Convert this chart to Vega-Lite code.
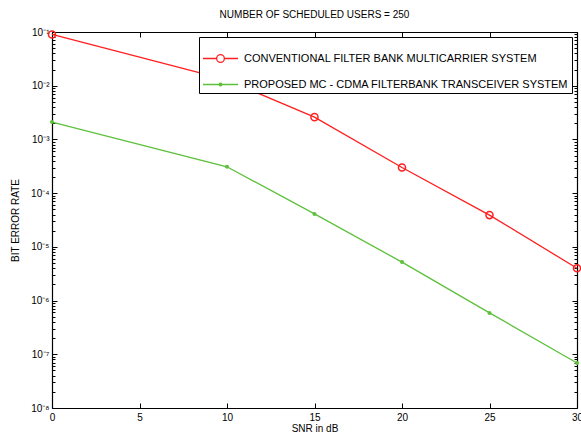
{
  "$schema": "https://vega.github.io/schema/vega-lite/v6.json",
  "width": 525,
  "height": 376,
  "autosize": {"type": "none"},
  "padding": {"left": 52, "top": 32, "right": 4, "bottom": 28},
  "background": "white",
  "config": {
    "font": "Liberation Sans",
    "view": {"stroke": null, "fill": null},
    "axis": {
      "grid": false,
      "zindex": 2,
      "domainColor": "#000000",
      "domainWidth": 1.2,
      "domainOpacity": 1,
      "tickColor": "#000000",
      "tickWidth": 1,
      "tickOpacity": 1,
      "labelColor": "black",
      "titleColor": "black",
      "labelFontSize": 10,
      "titleFontSize": 10,
      "titleFontWeight": "normal",
      "labelFont": "Liberation Sans",
      "titleFont": "Liberation Sans"
    }
  },
  "title": {
    "text": "NUMBER OF SCHEDULED USERS = 250",
    "fontSize": 10,
    "fontWeight": "normal",
    "font": "Liberation Sans",
    "color": "black",
    "offset": 7
  },
  "data": {
    "values": [
      {"snr": 0, "ber": 0.09, "series": "CONVENTIONAL FILTER BANK MULTICARRIER SYSTEM"},
      {"snr": 10, "ber": 0.0128, "series": "CONVENTIONAL FILTER BANK MULTICARRIER SYSTEM"},
      {"snr": 15, "ber": 0.0026, "series": "CONVENTIONAL FILTER BANK MULTICARRIER SYSTEM"},
      {"snr": 20, "ber": 0.0003, "series": "CONVENTIONAL FILTER BANK MULTICARRIER SYSTEM"},
      {"snr": 25, "ber": 0.000039, "series": "CONVENTIONAL FILTER BANK MULTICARRIER SYSTEM"},
      {"snr": 30, "ber": 0.000004, "series": "CONVENTIONAL FILTER BANK MULTICARRIER SYSTEM"},
      {"snr": 0, "ber": 0.0021, "series": "PROPOSED MC - CDMA FILTERBANK TRANSCEIVER SYSTEM"},
      {"snr": 10, "ber": 0.00031, "series": "PROPOSED MC - CDMA FILTERBANK TRANSCEIVER SYSTEM"},
      {"snr": 15, "ber": 0.000041, "series": "PROPOSED MC - CDMA FILTERBANK TRANSCEIVER SYSTEM"},
      {"snr": 20, "ber": 0.0000052, "series": "PROPOSED MC - CDMA FILTERBANK TRANSCEIVER SYSTEM"},
      {"snr": 25, "ber": 0.00000059, "series": "PROPOSED MC - CDMA FILTERBANK TRANSCEIVER SYSTEM"},
      {"snr": 30, "ber": 0.000000069, "series": "PROPOSED MC - CDMA FILTERBANK TRANSCEIVER SYSTEM"}
    ]
  },
  "resolve": {"axis": {"x": "independent", "y": "independent"}},
  "layer": [
    {
      "mark": {"type": "line", "strokeWidth": 1.3},
      "encoding": {
        "x": {
          "field": "snr", "type": "quantitative",
          "scale": {"domain": [0, 30], "nice": false, "zero": false},
          "axis": {
            "orient": "bottom",
            "title": "SNR in dB",
            "values": [0, 5, 10, 15, 20, 25, 30],
            "tickSize": -5,
            "labelPadding": 9,
            "titlePadding": 1,
            "labelFlush": false
          }
        },
        "y": {
          "field": "ber", "type": "quantitative",
          "scale": {"type": "log", "domain": [1e-8, 0.1], "nice": false},
          "axis": {
            "orient": "left",
            "title": "BIT ERROR RATE",
            "values": [1e-8,2e-8,3e-8,4e-8,5e-8,6e-8,7e-8,8e-8,9e-8,1e-7,2e-7,3e-7,4e-7,5e-7,6e-7,7e-7,8e-7,9e-7,1e-6,2e-6,3e-6,4e-6,5e-6,6e-6,7e-6,8e-6,9e-6,1e-5,2e-5,3e-5,4e-5,5e-5,6e-5,7e-5,8e-5,9e-5,1e-4,2e-4,3e-4,4e-4,5e-4,6e-4,7e-4,8e-4,9e-4,1e-3,2e-3,3e-3,4e-3,5e-3,6e-3,7e-3,8e-3,9e-3,1e-2,2e-2,3e-2,4e-2,5e-2,6e-2,7e-2,8e-2,9e-2,1e-1],
            "labelExpr": "abs(log(datum.value)/LN10 - round(log(datum.value)/LN10)) < 0.01 ? '10⁻' + ['⁰','¹','²','³','⁴','⁵','⁶','⁷','⁸','⁹'][-round(log(datum.value)/LN10)] : ''",
            "tickSize": {"condition": {"test": "abs(log(datum.value)/LN10 - round(log(datum.value)/LN10)) < 0.01", "value": -5}, "value": -3},
            "labelPadding": 8,
            "titlePadding": 10,
            "labelFlush": false,
            "labelOverlap": false
          }
        },
        "color": {
          "field": "series", "type": "nominal",
          "scale": {
            "domain": ["CONVENTIONAL FILTER BANK MULTICARRIER SYSTEM", "PROPOSED MC - CDMA FILTERBANK TRANSCEIVER SYSTEM"],
            "range": ["#ff1f1f", "#5dc03b"]
          },
          "legend": {
            "title": null,
            "orient": "top-right",
            "offset": 5,
            "zindex": 3,
            "strokeColor": "black",
            "fillColor": "white",
            "padding": 3,
            "labelFontSize": 11,
            "labelFont": "Liberation Sans",
            "labelColor": "black",
            "labelLimit": 500,
            "labelOffset": 5,
            "rowPadding": 1,
            "symbolSize": 1225,
            "symbolStrokeWidth": 1.3,
            "encode": {
              "symbols": {
                "update": {
                  "shape": {"signal": "datum.value == 'CONVENTIONAL FILTER BANK MULTICARRIER SYSTEM' ? 'M-1,0H-0.22M0.22,0H1M0.22,0A0.22,0.22 0 1,1 -0.22,0A0.22,0.22 0 1,1 0.22,0' : 'M-1,0H1M0.08,0A0.08,0.08 0 1,1 -0.08,0A0.08,0.08 0 1,1 0.08,0'"},
                  "fillOpacity": {"signal": "datum.value == 'CONVENTIONAL FILTER BANK MULTICARRIER SYSTEM' ? 0 : 1"},
                  "size": {"value": 1225}
                }
              }
            }
          }
        }
      }
    },
    {
      "transform": [{"filter": "datum.series == 'CONVENTIONAL FILTER BANK MULTICARRIER SYSTEM'"}],
      "mark": {"type": "point", "filled": false, "size": 50, "strokeWidth": 1.5, "opacity": 1},
      "encoding": {
        "x": {
          "field": "snr", "type": "quantitative",
          "axis": {"orient": "top", "title": null, "labels": false, "values": [0, 5, 10, 15, 20, 25, 30], "tickSize": -5}
        },
        "y": {
          "field": "ber", "type": "quantitative",
          "axis": {
            "orient": "right", "title": null, "labels": false,
            "values": [1e-8,2e-8,3e-8,4e-8,5e-8,6e-8,7e-8,8e-8,9e-8,1e-7,2e-7,3e-7,4e-7,5e-7,6e-7,7e-7,8e-7,9e-7,1e-6,2e-6,3e-6,4e-6,5e-6,6e-6,7e-6,8e-6,9e-6,1e-5,2e-5,3e-5,4e-5,5e-5,6e-5,7e-5,8e-5,9e-5,1e-4,2e-4,3e-4,4e-4,5e-4,6e-4,7e-4,8e-4,9e-4,1e-3,2e-3,3e-3,4e-3,5e-3,6e-3,7e-3,8e-3,9e-3,1e-2,2e-2,3e-2,4e-2,5e-2,6e-2,7e-2,8e-2,9e-2,1e-1],
            "tickSize": {"condition": {"test": "abs(log(datum.value)/LN10 - round(log(datum.value)/LN10)) < 0.01", "value": -5}, "value": -3}
          }
        },
        "color": {"field": "series", "type": "nominal"}
      }
    },
    {
      "transform": [{"filter": "datum.series == 'PROPOSED MC - CDMA FILTERBANK TRANSCEIVER SYSTEM'"}],
      "mark": {"type": "point", "filled": true, "size": 16, "opacity": 1},
      "encoding": {
        "x": {"field": "snr", "type": "quantitative", "axis": null},
        "y": {"field": "ber", "type": "quantitative", "axis": null},
        "color": {"field": "series", "type": "nominal"}
      }
    }
  ]
}
